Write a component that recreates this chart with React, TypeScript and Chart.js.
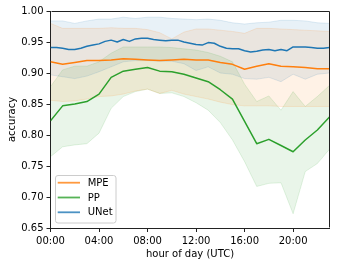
import React, { useEffect, useRef } from "react";
import { Chart, registerables } from "chart.js";

Chart.register(...registerables);

// ---- data ----
const hours = [0, 1, 2, 3, 4, 5, 6, 7, 8, 9, 10, 11, 12, 13, 14, 15, 16, 17, 18, 19, 20, 21, 22, 23];
const unetHours = [
  0, 0.5, 1, 1.5, 2, 2.5, 3, 3.5, 4, 4.5, 5, 5.5, 6, 6.5, 7, 7.5, 8, 8.5, 9, 9.5, 10, 10.5, 11, 11.5,
  12, 12.5, 13, 13.5, 14, 14.5, 15, 15.5, 16, 16.5, 17, 17.5, 18, 18.5, 19, 19.5, 20, 20.5, 21, 21.5,
  22, 22.5, 23,
];

const mpeMean = [0.918, 0.914, 0.917, 0.92, 0.92, 0.921, 0.923, 0.922, 0.921, 0.92, 0.921, 0.922, 0.921, 0.921, 0.917, 0.914, 0.906, 0.911, 0.915, 0.911, 0.91, 0.909, 0.907, 0.907];
const mpeUpper = [0.98, 0.972, 0.972, 0.972, 0.972, 0.973, 0.972, 0.972, 0.97, 0.965, 0.955, 0.966, 0.971, 0.971, 0.969, 0.967, 0.964, 0.972, 0.972, 0.971, 0.97, 0.969, 0.968, 0.967];
const mpeLower = [0.856, 0.854, 0.855, 0.858, 0.862, 0.863, 0.866, 0.871, 0.874, 0.867, 0.872, 0.866, 0.862, 0.858, 0.853, 0.849, 0.847, 0.847, 0.847, 0.846, 0.846, 0.846, 0.846, 0.846];

const ppMean = [0.823, 0.847, 0.85, 0.854, 0.866, 0.893, 0.903, 0.906, 0.909, 0.903, 0.902, 0.898, 0.892, 0.886, 0.873, 0.858, 0.822, 0.786, 0.793, 0.783, 0.773, 0.792, 0.808, 0.829];
const ppUpper = [0.878, 0.905, 0.911, 0.911, 0.918, 0.932, 0.942, 0.942, 0.942, 0.942, 0.941, 0.939, 0.937, 0.933, 0.927, 0.918, 0.882, 0.854, 0.863, 0.84, 0.87, 0.846, 0.862, 0.88];
const ppLower = [0.765, 0.781, 0.784, 0.786, 0.803, 0.843, 0.862, 0.87, 0.874, 0.867, 0.868, 0.862, 0.852, 0.84, 0.82, 0.792, 0.757, 0.717, 0.722, 0.723, 0.673, 0.741, 0.754, 0.777];

const unetMean = [
  0.941, 0.941, 0.94, 0.938, 0.938, 0.94, 0.943, 0.945, 0.947, 0.951, 0.953, 0.95, 0.954, 0.951, 0.955, 0.956,
  0.956, 0.954, 0.953, 0.952, 0.953, 0.953, 0.95, 0.948, 0.946, 0.945, 0.949, 0.948, 0.943, 0.94, 0.939, 0.939,
  0.936, 0.934, 0.935, 0.937, 0.938, 0.936, 0.938, 0.936, 0.942, 0.942, 0.942, 0.941, 0.94, 0.94, 0.941,
];
const unetUpper = [0.984, 0.984, 0.98, 0.984, 0.987, 0.987, 0.99, 0.988, 0.99, 0.99, 0.988, 0.987, 0.986, 0.987, 0.985, 0.981, 0.979, 0.981, 0.982, 0.985, 0.985, 0.984, 0.981, 0.98];
const unetLower = [0.897, 0.894, 0.891, 0.895, 0.902, 0.91, 0.918, 0.92, 0.92, 0.919, 0.919, 0.915, 0.904, 0.91, 0.9, 0.898, 0.891, 0.89, 0.893, 0.886, 0.898, 0.89, 0.898, 0.9];

const seriesNames = ["MPE", "PP", "UNet"];
const xTickValues = [0, 4, 8, 12, 16, 20];
const xTickLabels = ["00:00", "04:00", "08:00", "12:00", "16:00", "20:00"];
const yTickValues = [0.65, 0.7, 0.75, 0.8, 0.85, 0.9, 0.95, 1.0];
const yTickLabels = ["0.65", "0.70", "0.75", "0.80", "0.85", "0.90", "0.95", "1.00"];

// ---- styles ----
const RGB: Record<string, [number, number, number]> = {
  MPE: [255, 127, 14],
  PP: [44, 160, 44],
  UNet: [31, 119, 180],
};
const rgba = (name: string, a: number) => {
  const [r, g, b] = RGB[name];
  return `rgba(${r},${g},${b},${a})`;
};
const FONT = "'DejaVu Sans', sans-serif";

const xy = (xs: number[], ys: number[]) => xs.map((x, i) => ({ x, y: ys[i] }));

const legendPlugin = {
  id: "insideLegend",
  afterDraw(chart: any) {
    const ctx = chart.ctx as CanvasRenderingContext2D;
    const x0 = 55.5, y0 = 175.5, w = 60.5, h = 47.5, r = 2.5;
    ctx.save();
    ctx.beginPath();
    ctx.moveTo(x0 + r, y0);
    ctx.lineTo(x0 + w - r, y0);
    ctx.arcTo(x0 + w, y0, x0 + w, y0 + r, r);
    ctx.lineTo(x0 + w, y0 + h - r);
    ctx.arcTo(x0 + w, y0 + h, x0 + w - r, y0 + h, r);
    ctx.lineTo(x0 + r, y0 + h);
    ctx.arcTo(x0, y0 + h, x0, y0 + h - r, r);
    ctx.lineTo(x0, y0 + r);
    ctx.arcTo(x0, y0, x0 + r, y0, r);
    ctx.closePath();
    ctx.fillStyle = "rgba(255,255,255,0.8)";
    ctx.fill();
    ctx.strokeStyle = "#cccccc";
    ctx.lineWidth = 1;
    ctx.stroke();
    ctx.font = `10px ${FONT}`;
    ctx.textBaseline = "middle";
    ctx.textAlign = "left";
    seriesNames.forEach((name, i) => {
      const yy = 182.7 + i * 14.8;
      ctx.beginPath();
      ctx.moveTo(57.7, yy);
      ctx.lineTo(80, yy);
      ctx.strokeStyle = rgba(name, 0.8);
      ctx.lineWidth = 1.8;
      ctx.stroke();
      ctx.fillStyle = "#000";
      ctx.fillText(name, 87.7, yy + 0.5);
    });
    ctx.restore();
  },
};

const framePlugin = {
  id: "frame",
  afterDatasetsDraw(chart: any) {
    const { ctx, chartArea } = chart;
    const { left, right, top, bottom } = chartArea;
    ctx.save();
    ctx.strokeStyle = "#222";
    ctx.lineWidth = 1;
    ctx.beginPath();
    ctx.moveTo(Math.round(left) + 0.5, Math.round(top) + 0.5);
    ctx.lineTo(Math.round(right) - 0.5, Math.round(top) + 0.5);
    ctx.lineTo(Math.round(right) - 0.5, Math.round(bottom) - 0.5);
    ctx.stroke();
    ctx.restore();
  },
};

export default function App() {
  const canvasRef = useRef<HTMLCanvasElement | null>(null);

  useEffect(() => {
    document.body.style.margin = "0";
    const canvas = canvasRef.current;
    if (!canvas) return;

    const line = (name: string, xs: number[], ys: number[]) => ({
      label: name,
      data: xy(xs, ys),
      borderColor: rgba(name, 1),
      borderWidth: 1.5,
      pointRadius: 0,
      tension: 0,
      fill: false,
      borderJoinStyle: "round" as const,
    });
    const band = (name: string, ys: number[], upper: boolean) => ({
      label: name + (upper ? " upper" : " lower"),
      data: xy(hours, ys),
      borderColor: rgba(name, 0.13),
      borderWidth: 1,
      pointRadius: 0,
      tension: 0,
      fill: upper ? "-1" : false,
      backgroundColor: rgba(name, 0.1),
    });

    const chart = new Chart(canvas, {
      type: "line",
      data: {
        datasets: [
          line("MPE", hours, mpeMean),
          line("PP", hours, ppMean),
          line("UNet", unetHours, unetMean),
          band("MPE", mpeLower, false),
          band("MPE", mpeUpper, true),
          band("PP", ppLower, false),
          band("PP", ppUpper, true),
          band("UNet", unetLower, false),
          band("UNet", unetUpper, true),
        ] as any,
      },
      options: {
        animation: false,
        responsive: false,
        devicePixelRatio: 1,
        layout: { padding: { top: 11, right: 10.5, left: 0, bottom: 0 } },
        plugins: {
          legend: { display: false },
          tooltip: { enabled: false },
          filler: { drawTime: "beforeDatasetsDraw" },
        } as any,
        scales: {
          x: {
            type: "linear",
            min: 0,
            max: 23,
            afterFit: (s: any) => {
              s.height = 38;
            },
            afterBuildTicks: (s: any) => {
              s.ticks = xTickValues.map((v) => ({ value: v }));
            },
            ticks: {
              callback: (v: any) => xTickLabels[xTickValues.indexOf(Number(v))],
              maxRotation: 0,
              autoSkip: false,
              padding: 3,
              color: "#000",
              font: { size: 10, family: FONT },
            },
            grid: { drawOnChartArea: false, drawTicks: true, tickLength: 4, color: "#222", tickWidth: 1 },
            border: { color: "#222", width: 1 },
            title: {
              display: true,
              text: "hour of day (UTC)",
              color: "#000",
              padding: { top: 0, bottom: 6 },
              font: { size: 10, family: FONT },
            },
          },
          y: {
            type: "linear",
            min: 0.65,
            max: 1.0,
            afterFit: (s: any) => {
              s.width = 50.5;
            },
            afterBuildTicks: (s: any) => {
              s.ticks = yTickValues.map((v) => ({ value: v }));
            },
            ticks: {
              callback: (v: any) => {
                const i = yTickValues.findIndex((t) => Math.abs(t - Number(v)) < 1e-9);
                return i >= 0 ? yTickLabels[i] : "";
              },
              autoSkip: false,
              padding: 3,
              color: "#000",
              font: { size: 10, family: FONT },
            },
            grid: { drawOnChartArea: false, drawTicks: true, tickLength: 4, color: "#222", tickWidth: 1 },
            border: { color: "#222", width: 1 },
            title: {
              display: true,
              text: "accuracy",
              color: "#000",
              padding: { top: 6, bottom: 0 },
              font: { size: 10, family: FONT },
            },
          },
        },
      } as any,
      plugins: [framePlugin, legendPlugin],
    });

    return () => chart.destroy();
  }, []);

  return (
    <div style={{ width: 340, height: 266 }}>
      <canvas ref={canvasRef} width={340} height={266} style={{ display: "block", width: 340, height: 266 }} />
    </div>
  );
}
